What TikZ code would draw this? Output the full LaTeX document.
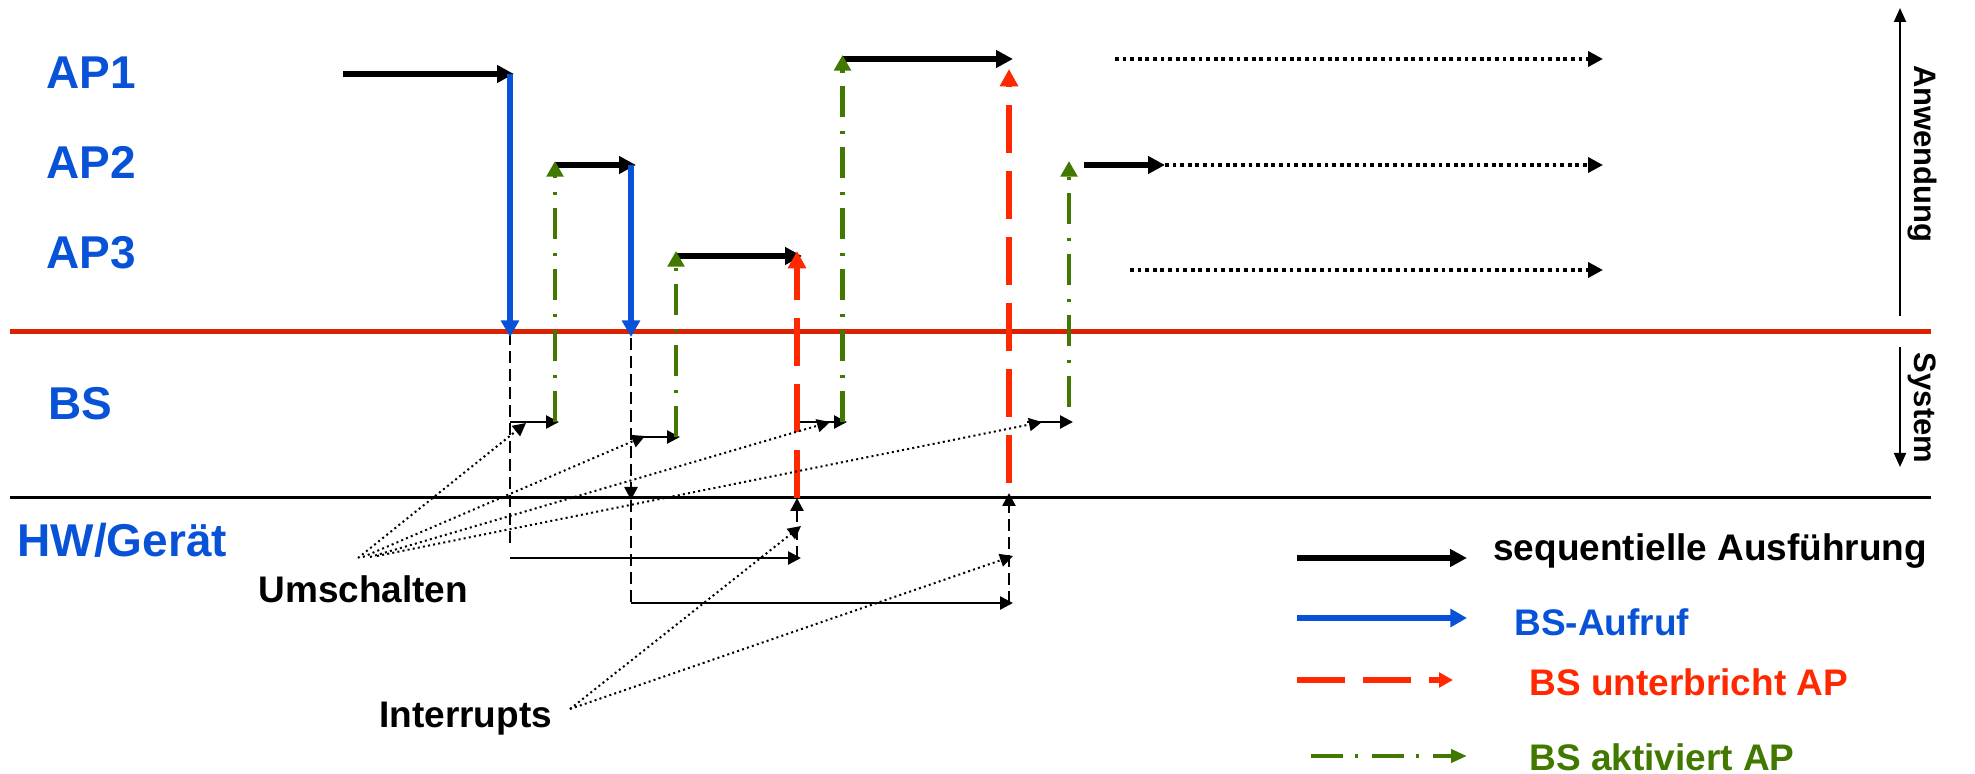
\documentclass[tikz,border=0pt]{standalone}
\usepackage{fontspec}
\setmainfont{Liberation Sans}
\usetikzlibrary{arrows.meta}
\definecolor{apblue}{RGB}{8,82,216}
\definecolor{linered}{RGB}{218,34,0}
\definecolor{intred}{RGB}{255,40,0}
\definecolor{actgreen}{RGB}{65,120,0}
\tikzset{
  lbl/.style={inner sep=0pt, font=\fontsize{23}{27}\selectfont\bfseries, text=apblue, anchor=base west},
  note/.style={inner sep=0pt, font=\fontsize{18.5}{22}\selectfont\bfseries, anchor=base west},
  side/.style={inner sep=0pt, font=\fontsize{15.5}{18}\selectfont\bfseries, rotate=-90},
  seq/.style={line width=2.85pt, -{Triangle[length=8.5pt,width=8.5pt]}},
  call/.style={apblue, line width=2.85pt, -{Triangle[length=8.3pt,width=8.8pt]}},
  intr/.style={intred, line width=3pt, dash pattern=on 23.8pt off 9.2pt, -{Triangle[length=8.7pt,width=8.8pt]}},
  activ/.style={actgreen, line width=2.15pt, dash pattern=on 15.5pt off 6.5pt on 1.5pt off 7pt, -{Triangle[length=7.8pt,width=8.2pt]}},
  thin/.style={line width=1.3pt, -{Triangle[length=6.5pt,width=6.5pt]}},
  thindash/.style={line width=1.3pt, dash pattern=on 6pt off 3pt},
  ptr/.style={line width=1pt, dash pattern=on 1pt off 1.6pt, -{Triangle[length=6.5pt,width=6.5pt]}},
  futur/.style={line width=2.15pt, dash pattern=on 1.85pt off 1.95pt, -{Triangle[length=7.5pt,width=7.5pt]}},
  axis/.style={line width=1pt, -{Triangle[length=7pt,width=6pt]}}
}
\begin{document}
\begin{tikzpicture}[x=0.5pt,y=-0.5pt]
\useasboundingbox (0,0) rectangle (1975,774);

% layer lines
\draw[linered, line width=2.6pt] (10,331.5) -- (1931,331.5);
\draw[black, line width=1.5pt] (10,498) -- (1931,498);

% labels
\node[lbl] (ap1) at (46,89) {AP1};
\node[lbl] (ap2) at (46,179) {AP2};
\node[lbl] (ap3) at (46,269) {AP3};
\node[lbl] (bs) at (48,420) {BS};
\node[lbl] (hw) at (17,557) {HW/Gerät};
\node[note] (umsch) at (258,603) {Umschalten};
\node[note] (intrp) at (379,727) {Interrupts};

% side axis
\draw[axis] (1900,316) -- (1900,8);
\draw[axis] (1900,347) -- (1900,467);
\node[side] (anw) at (1922,154) {Anwendung};
\node[side] (sys) at (1922,408) {System};

% black dashed (OS paths)
\draw[thindash] (510,333) -- (510,548);
\draw[thindash, -{Triangle[length=6.5pt,width=6.5pt]}] (631,338) -- (631,500);
\draw[thindash] (631,500) -- (631,603);
\draw[thindash, -{Triangle[length=6.5pt,width=6.5pt]}] (797,558) -- (797,498);
\draw[thindash, -{Triangle[length=6.5pt,width=6.5pt]}] (1009,603) -- (1009,493);

% HW horizontal arrows
\draw[thin] (510,558) -- (801,558);
\draw[thin] (631,603) -- (1013,603);

% BS switching arrows
\draw[thin] (510,422) -- (559,422);
\draw[thin] (631,437) -- (680,437);
\draw[thin] (797,422) -- (847,422);
\draw[thin] (1027,422) -- (1073,422);

% application sequential execution
\draw[seq] (343,74) -- (514,74);
\draw[seq] (555,165) -- (636,165);
\draw[seq] (676,256) -- (802,256);
\draw[seq] (843,59) -- (1013,59);
\draw[seq] (1084,165) -- (1165,165);
\draw[futur] (1165,165) -- (1603,165);
\draw[futur] (1115,59) -- (1603,59);
\draw[futur] (1130,270) -- (1603,270);

% system calls
\draw[call] (510,74) -- (510,337);
\draw[call] (631,165) -- (631,337);

% activations
\draw[activ] (555,422) -- (555,161);
\draw[activ] (676,437) -- (676,251);
\draw[activ] (842.5,422) -- (842.5,55);
\draw[activ] (1069,407) -- (1069,161);

% interruptions
\draw[intr] (797,498) -- (797,251);
\draw[intr] (1009,483) -- (1009,69);

% pointers Umschalten
\draw[ptr] (358,558) -- (526,423);
\draw[ptr] (363,557) -- (645,436);
\draw[ptr] (370,557) -- (830,422);
\draw[ptr] (377,556) -- (1042,422);

% pointers Interrupts
\draw[ptr] (570,709) -- (801,526);
\draw[ptr] (570,709) -- (1013,556);

% legend
\draw[seq] (1297,558) -- (1467,558);
\node[note] (lseq) at (1493,560) {sequentielle Ausführung};
\draw[call] (1297,618) -- (1467,618);
\node[note, text=apblue] (lcall) at (1514,635) {BS-Aufruf};
\draw[intred, line width=3pt, dash pattern=on 23.8pt off 9.3pt, -{Triangle[length=7pt,width=7.3pt]}] (1297,680) -- (1453,680);
\node[note, text=intred] (lint) at (1529,695) {BS unterbricht AP};
\draw[actgreen, line width=2.15pt, dash pattern=on 16pt off 6pt on 1.5pt off 7pt, -{Triangle[length=8pt,width=6.5pt]}] (1311,756) -- (1467,756);
\node[note, text=actgreen] (lact) at (1529,770) {BS aktiviert AP};
\end{tikzpicture}
\end{document}
